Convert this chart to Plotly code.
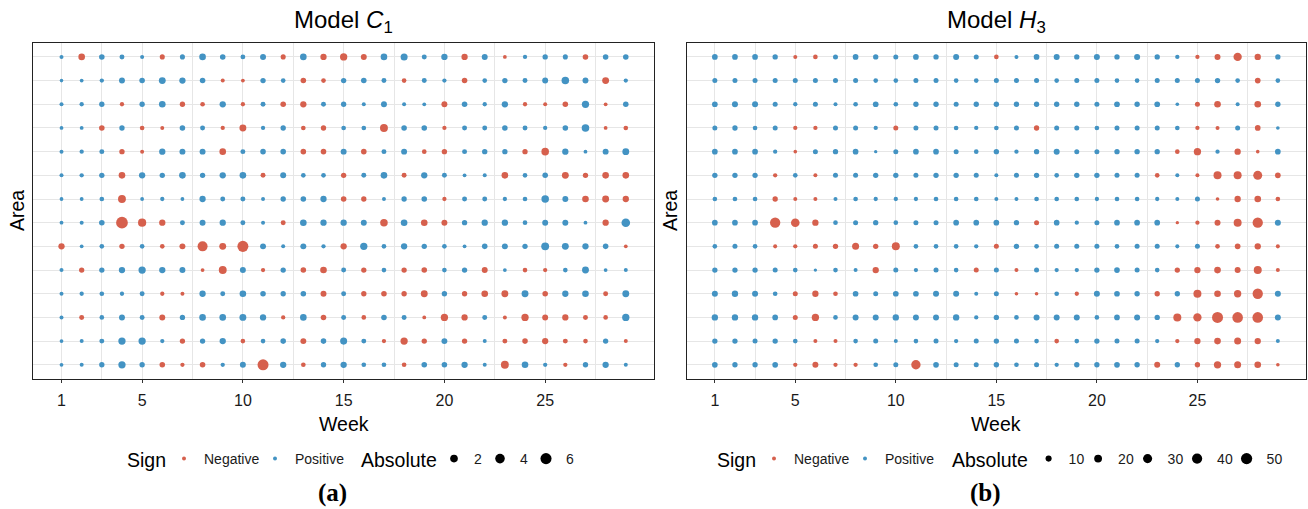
import plotly.graph_objects as go

# ---------------- data ----------------
weeks = list(range(1, 30))
areas = list(range(1, 15))          # row 1 = top row of the panel
week_ticks = [1, 5, 10, 15, 20, 25]
week_minor = [3, 7.5, 12.5, 17.5, 22.5, 27.5]

# Model C1: signed effect per area (rows) and week (columns)
c1_values = [
    [0.1, -1.2, 0.6, 0.35, 0.1, -0.4, 0.4, 1.2, 0.6, 0.3, 0.8, -0.4, 1.2, -1.0, -1.7, -0.8, 1.2, 1.5, 0.35, 1.0, -1.0, 0.8, -0.06, 0.16, 0.5, 0.4, -0.6, 0.6, 0.6],
    [0.03, 0.06, 0.16, 0.8, 0.6, 1.4, 1.0, 0.6, -0.09, -0.06, 0.5, 0.25, -0.6, -0.25, 0.5, 0.6, 0.35, -0.25, 0.35, 0.16, -0.6, 0.25, 0.5, 0.35, 0.8, 1.9, 0.8, -1.4, 0.16],
    [0.09, 0.16, 0.5, -0.16, 0.5, 1.2, -0.5, -0.25, 1.0, -0.16, 0.35, -0.6, -1.0, 0.35, 0.5, 0.09, 0.8, 0.09, 0.06, -0.8, 0.6, 0.16, 1.0, -0.16, -0.09, -0.6, 1.7, -0.06, 0.6],
    [0.06, 0.06, -0.6, 0.5, -0.25, -0.09, 0.6, 0.35, -0.16, -1.4, 0.16, 0.5, -0.25, -0.5, 0.25, 0.25, -2.2, 0.6, 0.6, -0.16, 0.35, 0.35, 0.6, 0.35, 0.16, 0.6, 1.9, -0.06, -0.25],
    [0.09, 0.16, 0.35, -0.5, -0.09, 1.0, 0.8, 0.8, -1.2, 0.35, 0.6, 0.6, -0.6, -0.6, 0.8, -0.6, 0.35, 0.8, -0.25, -0.5, 0.35, 0.5, 0.5, -0.5, -1.9, 1.0, 0.06, 0.8, 1.4],
    [0.09, 0.16, 0.5, -1.2, 1.0, 0.5, 1.2, 0.5, 1.0, 1.2, -0.35, 0.8, 0.25, 0.25, -0.5, 0.35, 1.2, -0.35, 1.0, 0.35, 0.06, 0.09, -1.2, 0.25, 0.6, -1.4, -0.5, -1.2, -1.2],
    [0.06, 0.06, 0.25, -2.2, 0.06, 0.16, 0.06, 1.0, 0.35, 0.35, 0.09, 0.5, 0.6, 1.0, -0.6, -0.5, 0.09, 0.5, 0.6, -0.16, 0.35, 0.35, 0.16, 0.25, 1.9, 0.8, -1.2, -1.4, -1.0],
    [0.06, 0.09, 0.6, -7.0, -2.5, -1.0, 0.35, 0.8, 1.0, 0.35, 0.09, -0.35, 1.2, 1.0, 1.0, 0.8, -1.9, 1.2, -1.2, -0.8, 0.5, 1.0, 1.0, 0.25, 0.8, 0.8, 0.06, -1.0, 2.9],
    [-1.0, 0.06, 0.25, -0.5, 0.25, -0.25, -0.8, -4.5, -1.4, -5.9, 0.8, 0.09, 0.8, 0.16, -1.0, 1.7, 0.25, 1.0, 0.5, 0.25, 0.06, 0.6, 0.8, 0.5, 2.2, 1.4, 1.0, 0.6, -0.06],
    [0.09, -0.5, 0.5, 1.0, 1.7, 1.0, 0.8, -0.06, -2.2, 0.8, -0.16, 0.5, -0.6, -1.2, 0.35, -0.5, 0.25, -0.5, -0.6, 0.25, 0.5, -0.8, 0.06, -0.25, -0.16, 0.25, 1.4, 0.06, 0.09],
    [0.09, 0.16, 0.25, 0.16, 0.35, -0.16, -0.09, 1.0, 0.35, 1.2, 0.6, 0.5, 0.6, -0.8, 0.35, -0.5, -0.6, -0.5, -1.4, 0.5, -0.5, -1.2, -1.4, 1.4, -0.6, 1.0, 1.2, -0.35, 1.4],
    [0.09, -0.35, 0.25, 0.8, 0.35, -0.8, 0.5, 1.2, 1.2, 1.4, 1.0, -0.16, 1.2, -0.6, 0.35, -0.25, 0.6, 0.35, -0.06, -1.7, -1.0, 0.35, -0.09, -1.7, -0.8, -1.0, -0.35, -0.25, 1.7],
    [0.06, 0.09, 0.35, 1.7, 1.7, 0.16, -0.5, 0.5, 1.0, -0.25, 0.25, 0.6, -0.8, 0.6, 1.5, 0.35, -0.16, -1.7, -0.5, 0.8, -0.5, 0.09, -0.35, -0.6, -1.0, -0.35, -0.25, 0.5, -0.09],
    [0.06, 0.09, 0.5, 1.7, 0.5, -0.6, -0.16, -0.6, 0.16, 0.8, -5.9, 1.0, -0.25, 0.5, 1.0, 0.25, 0.25, -0.25, 0.6, 0.6, 1.0, 0.09, -2.2, 1.2, 0.16, -0.16, 0.5, 1.0, 0.09],
]

# Model H3: signed effect per area (rows) and week (columns)
h3_values = [
    [8, 8, 8, 6.6, -2.4, -4.2, 5.3, 8, 6.6, 5.3, 8, 6.6, 9.5, 5.3, -4.2, 2.4, 8, 9.5, 6.6, 9.5, 6.6, 9.5, 6.6, 3.2, -3.2, -9.5, -23.7, -11.1, 6.6],
    [5.3, 5.3, 5.3, 5.3, 5.3, 5.3, 5.3, 5.3, 4.2, 4.2, 5.3, 5.3, 4.2, 4.2, 5.3, 5.3, 5.3, 4.2, 5.3, 5.3, 4.2, 4.2, 5.3, 5.3, 5.3, 6.6, 4.2, -8, 4.2],
    [8, 9.5, 9.5, 5.3, 3.2, 5.3, 2.4, 4.2, 8, 4.2, 6.6, 6.6, 5.3, 6.6, 6.6, 6.6, 6.6, 6.6, 6.6, 5.3, 8, 6.6, 8, 1.6, -5.3, -12.9, 2.4, -12.9, 6.6],
    [5.3, 6.6, 4.2, 5.3, -3.2, -3.2, 5.3, 5.3, 3.2, -5.3, 5.3, 5.3, 4.2, 3.2, 4.2, 5.3, -6.6, 5.3, 5.3, 4.2, 5.3, 5.3, 5.3, 4.2, -3.2, -2.4, 5.3, -8, 1.6],
    [8, 8, 8, 3.2, -1.6, 5.3, 6.6, 8, 1.1, 5.3, 8, 8, 5.3, 4.2, 6.6, 3.2, 6.6, 9.5, 5.3, 5.3, 6.6, 6.6, 6.6, -4.2, -16.8, 3.2, -11.1, -1.6, 8],
    [6.6, 6.6, 6.6, -3.2, 4.2, -2.4, 5.3, 5.3, 6.6, 6.6, 5.3, 6.6, 6.6, 5.3, 2.4, 5.3, 6.6, 4.2, 6.6, 6.6, 5.3, 5.3, -4.2, 2.4, -2.4, -21.3, -21.3, -29, -8],
    [4.2, 4.2, 4.2, -6.6, -2.4, -2.4, 2.4, 4.2, 3.2, 3.2, 3.2, 4.2, 4.2, 4.2, 2.4, 2.4, 4.2, 4.2, 4.2, 3.2, 4.2, 4.2, 3.2, 2.4, 5.3, -1.6, -11.1, -12.9, -4.2],
    [8, 8, 8, -41, -26, -11.1, 4.2, 5.3, 6.6, 4.2, 5.3, 5.3, 8, 8, 8, 6.6, -5.3, 8, 3.2, 5.3, 8, 8, 8, -1.1, -3.2, -9.5, -21.3, -41, 9.5],
    [4.2, 5.3, 4.2, -2.4, -3.2, -5.3, -6.6, -14.8, -6.6, -21.3, 4.2, 4.2, 4.2, 3.2, -5.3, 6.6, 4.2, 5.3, 5.3, 5.3, 4.2, 5.3, 5.3, 2.4, 5.3, -4.2, -8, -11.1, -2.4],
    [6.6, 6.6, 6.6, 5.3, 4.2, 1.1, 4.2, 2.4, -11.1, 5.3, 3.2, 5.3, 4.2, -5.3, 5.3, -2.4, 5.3, 3.2, 3.2, 6.6, 8, 5.3, 4.2, -6.6, -11.1, -12.9, -9.5, -21.3, -2.4],
    [9.5, 11.1, 9.5, 4.2, -5.3, -11.1, -4.2, 8, 5.3, 8, 8, 9.5, 9.5, 2.4, 5.3, -1.6, -1.6, 4.2, -3.2, 9.5, 8, 6.6, -6.6, 6.6, -21.3, -12.9, -16.8, -41, 9.5],
    [11.1, 11.1, 11.1, 8, -5.3, -16.8, 4.2, 9.5, 9.5, 11.1, 9.5, 9.5, 11.1, 3.2, 6.6, 4.2, 9.5, 9.5, 9.5, 4.2, 8, 9.5, 6.6, -21.3, -23.7, -48, -44, -44, 9.5],
    [6.6, 6.6, 5.3, 6.6, 4.2, -2.4, -2.4, 4.2, 5.3, 2.4, 4.2, 5.3, 3.2, 5.3, 6.6, 5.3, 4.2, -4.2, 4.2, 6.6, 5.3, 5.3, 3.2, -3.2, -11.1, -12.9, -14.8, -11.1, 2.4],
    [8, 6.6, 6.6, 8, -3.2, -9.5, -3.2, -3.2, 4.2, 5.3, -31.8, 8, 5.3, 5.3, 6.6, 4.2, 5.3, 3.2, 6.6, 6.6, 8, 6.6, -9.5, 6.6, -6.6, -16.8, -14.8, -12.9, -1.6],
]

sign_labels = ["Negative", "Positive"]
c1_legend_sizes = [2, 4, 6]
h3_legend_sizes = [10, 20, 30, 40, 50]

# ---------------- styling ----------------
W, H = 1308, 509
RED = "#D6604D"
BLUE = "#4393C3"
SANS = "Liberation Sans, Arial, Helvetica, sans-serif"
SERIF = "Liberation Serif, Times New Roman, serif"
GRID = "#E6E6E6"
TXT = "#1A1A1A"


def size_c1(v):
    return 3.0 + 3.3 * abs(v) ** 0.5


def size_h3(v):
    return 2.0 + 1.3 * abs(v) ** 0.5


def px_x(p):
    return p / W


def px_y(p):
    return 1 - p / H


fig = go.Figure()

# (values, sizer, axes, legends, legend sizes, entry width of size-legend items)
panels = [
    (c1_values, size_c1, "x", "y", "legend", "legend2", c1_legend_sizes, 1, 12),
    (h3_values, size_h3, "x2", "y2", "legend3", "legend4", h3_legend_sizes, 4.5, 20),
]

for values, sizer, xa, ya, leg_sign, leg_abs, leg_sizes, ew, ew_last in panels:
    xs, ys, cols, sizes = [], [], [], []
    for ai, row in zip(areas, values):
        for wk, v in zip(weeks, row):
            xs.append(wk)
            ys.append(ai)
            cols.append(RED if v < 0 else BLUE)
            sizes.append(sizer(v))
    fig.add_trace(go.Scatter(
        x=xs, y=ys, mode="markers", xaxis=xa, yaxis=ya, showlegend=False,
        marker=dict(color=cols, size=sizes, line=dict(width=0), opacity=1),
        hoverinfo="skip"))
    # sign legend entries
    for i, (lab, col) in enumerate(zip(sign_labels, [RED, BLUE])):
        fig.add_trace(go.Scatter(
            x=[None], y=[None], mode="markers", xaxis=xa, yaxis=ya, name=lab,
            legend=leg_sign, legendwidth=46 if i == 0 else 56,
            marker=dict(color=col, size=4, line=dict(width=0))))
    # size legend entries
    for i, s in enumerate(leg_sizes):
        fig.add_trace(go.Scatter(
            x=[None], y=[None], mode="markers", xaxis=xa, yaxis=ya, name=str(s),
            legend=leg_abs, legendwidth=ew if i < len(leg_sizes) - 1 else ew_last,
            marker=dict(color="black", size=sizer(s), line=dict(width=0))))

ydom = [px_y(379), px_y(42.7)]
common_x = dict(
    range=[-0.4, 30.4], tickmode="array", tickvals=week_ticks,
    ticktext=[str(t) for t in week_ticks], ticks="outside", ticklen=3,
    tickwidth=1, tickcolor="#333333", ticklabelstandoff=4,
    tickfont=dict(family=SANS, size=16, color=TXT),
    showgrid=True, gridcolor=GRID, gridwidth=1,
    minor=dict(tickmode="array", tickvals=week_minor, showgrid=True,
               gridcolor=GRID, gridwidth=1, ticks=""),
    showline=True, linecolor="#222222", linewidth=1, mirror=True, zeroline=False,
)
common_y = dict(
    range=[14.6, 0.4], tickmode="array", tickvals=areas, showticklabels=False,
    ticks="", showgrid=True, gridcolor=GRID, gridwidth=1, domain=ydom,
    showline=True, linecolor="#222222", linewidth=1, mirror=True, zeroline=False,
)

fig.update_layout(
    width=W, height=H, margin=dict(l=0, r=0, t=0, b=0, autoexpand=False),
    paper_bgcolor="white", plot_bgcolor="white",
    xaxis=dict(domain=[px_x(33.3), px_x(654)], anchor="y", **common_x),
    yaxis=dict(anchor="x", **common_y),
    xaxis2=dict(domain=[px_x(686.7), px_x(1306)], anchor="y2", **common_x),
    yaxis2=dict(anchor="x2", **common_y),
)

leg_common = dict(orientation="h", yanchor="middle", xanchor="left",
                  y=px_y(459), bgcolor="rgba(0,0,0,0)", borderwidth=0,
                  itemsizing="trace", itemclick=False,
                  font=dict(family=SANS, size=14, color=TXT))
fig.update_layout(
    legend=dict(x=px_x(164), **leg_common),
    legend2=dict(x=px_x(434), **leg_common),
    legend3=dict(x=px_x(754), **leg_common),
    legend4=dict(x=px_x(1028.6), **leg_common),
)

ann = []
for cx, title, cap, capx in [((33.3 + 654) / 2, "Model <i>C</i><sub>1</sub>", "(a)", 332),
                             ((686.7 + 1306) / 2, "Model <i>H</i><sub>3</sub>", "(b)", 985)]:
    ann.append(dict(x=px_x(cx), y=px_y(21), xref="paper", yref="paper", text=title,
                    showarrow=False, xanchor="center", yanchor="middle",
                    font=dict(family=SANS, size=24, color="black")))
    ann.append(dict(x=px_x(cx), y=px_y(424), xref="paper", yref="paper", text="Week",
                    showarrow=False, xanchor="center", yanchor="middle",
                    font=dict(family=SANS, size=19.5, color="black")))
    ann.append(dict(x=px_x(capx), y=px_y(493), xref="paper", yref="paper",
                    text="<b>" + cap + "</b>", showarrow=False, xanchor="center",
                    yanchor="middle", font=dict(family=SERIF, size=25, color="black")))
for ax_x in [17, 670]:
    ann.append(dict(x=px_x(ax_x), y=px_y(211), xref="paper", yref="paper", text="Area",
                    showarrow=False, textangle=-90, xanchor="center", yanchor="middle",
                    font=dict(family=SANS, size=19.5, color="black")))
for lx, lab in [(124.5, "Sign"), (358.6, "Absolute"), (714.5, "Sign"), (950.4, "Absolute")]:
    ann.append(dict(x=px_x(lx), y=px_y(460), xref="paper", yref="paper", text=lab,
                    showarrow=False, xanchor="left", yanchor="middle",
                    font=dict(family=SANS, size=19.5, color="black")))
fig.update_layout(annotations=ann)

fig.write_html("out.html", config={"displayModeBar": False},
               post_script="document.body.style.margin='0';")
